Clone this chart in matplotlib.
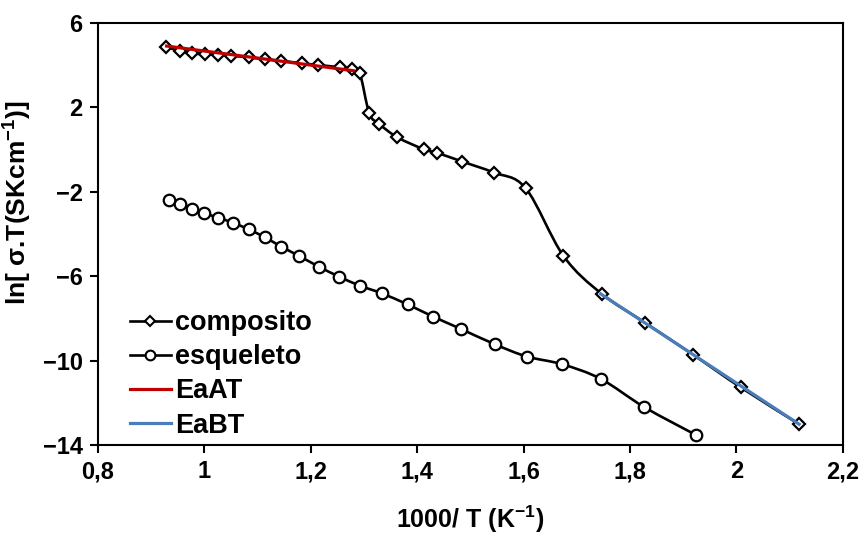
import matplotlib
matplotlib.use("Agg")
import matplotlib.pyplot as plt
from matplotlib.path import Path
from matplotlib.patches import PathPatch
from matplotlib.lines import Line2D

plt.rcParams["font.family"] = ["Liberation Sans", "DejaVu Sans"]
plt.rcParams["font.weight"] = "bold"
plt.rcParams["mathtext.default"] = "regular"

# composito (diamonds)
comp_x = [0.928, 0.954, 0.976, 1.001, 1.026, 1.051, 1.083, 1.114, 1.145, 1.183,
          1.214, 1.255, 1.277, 1.292, 1.310, 1.329, 1.363, 1.413, 1.437, 1.485,
          1.544, 1.604, 1.675, 1.747, 1.828, 1.919, 2.008, 2.118]
comp_y = [4.85, 4.69, 4.56, 4.53, 4.50, 4.44, 4.38, 4.28, 4.21, 4.09,
          4.01, 3.90, 3.80, 3.64, 1.72, 1.21, 0.58, 0.01, -0.15, -0.57,
          -1.09, -1.83, -5.04, -6.84, -8.20, -9.73, -11.27, -13.02]

# esqueleto (circles)
esq_x = [0.934, 0.954, 0.976, 1.000, 1.026, 1.054, 1.083, 1.114, 1.145, 1.178,
         1.215, 1.253, 1.292, 1.333, 1.382, 1.430, 1.482, 1.546, 1.606, 1.673,
         1.745, 1.827, 1.924]
esq_y = [-2.39, -2.58, -2.83, -3.02, -3.23, -3.47, -3.78, -4.16, -4.61, -5.04,
         -5.55, -6.02, -6.45, -6.81, -7.34, -7.92, -8.50, -9.23, -9.81, -10.18,
         -10.87, -12.21, -13.53]

# linear fits
eaat_x = [0.929, 1.280]
eaat_y = [4.91, 3.74]
eabt_x = [1.745, 2.118]
eabt_y = [-6.84, -13.02]

xticks = [0.8, 1.0, 1.2, 1.4, 1.6, 1.8, 2.0, 2.2]
xticklabels = ["0,8", "1", "1,2", "1,4", "1,6", "1,8", "2", "2,2"]
yticks = [6, 2, -2, -6, -10, -14]


def smooth_path(xs, ys):
    # Excel-style smoothed line: Catmull-Rom converted to cubic Bezier
    pts = list(zip(xs, ys))
    n = len(pts)
    verts = [pts[0]]
    codes = [Path.MOVETO]
    for i in range(n - 1):
        p0 = pts[i - 1] if i > 0 else pts[i]
        p1 = pts[i]
        p2 = pts[i + 1]
        p3 = pts[i + 2] if i + 2 < n else pts[i + 1]
        c1 = (p1[0] + (p2[0] - p0[0]) / 6, p1[1] + (p2[1] - p0[1]) / 6)
        c2 = (p2[0] - (p3[0] - p1[0]) / 6, p2[1] - (p3[1] - p1[1]) / 6)
        verts += [c1, c2, p2]
        codes += [Path.CURVE4] * 3
    return Path(verts, codes)


fig = plt.figure(figsize=(8.67, 5.36), dpi=100)
ax = fig.add_axes([0.113, 0.170, 0.859, 0.787])

lw_black = 1.9
ax.add_patch(PathPatch(smooth_path(comp_x, comp_y), fc="none", ec="black", lw=lw_black, zorder=2))
ax.add_patch(PathPatch(smooth_path(esq_x, esq_y), fc="none", ec="black", lw=lw_black, zorder=2))
ax.plot(comp_x, comp_y, ls="none", marker="D", ms=6.5, mfc="white", mec="black", mew=1.6, zorder=3)
ax.plot(esq_x, esq_y, ls="none", marker="o", ms=8.3, mfc="white", mec="black", mew=1.6, zorder=3)
ax.plot(eaat_x, eaat_y, color="#C00000", lw=2.3, zorder=4)
ax.plot(eabt_x, eabt_y, color="#4A7EBB", lw=2.3, zorder=4)

ax.set_xlim(0.8, 2.2)
ax.set_ylim(-14, 6)
ax.set_xticks(xticks)
ax.set_xticklabels(xticklabels)
ax.set_yticks(yticks)
ax.tick_params(direction="out", length=6, width=1.5, labelsize=17, pad=5)
for s in ax.spines.values():
    s.set_linewidth(1.5)

ax.set_xlabel("1000/ T (K$^{-1}$)", fontsize=18, fontweight="bold", labelpad=15)
ax.set_ylabel("ln[ σ.T(SKcm$^{-1}$)]", fontsize=19, fontweight="bold")
ax.yaxis.set_label_coords(-0.086, 0.575)

handles = [
    Line2D([], [], color="black", lw=lw_black, marker="D", ms=5.5, mfc="white", mec="black", mew=1.5),
    Line2D([], [], color="black", lw=lw_black, marker="o", ms=7, mfc="white", mec="black", mew=1.5),
    Line2D([], [], color="#C00000", lw=2.3),
    Line2D([], [], color="#4A7EBB", lw=2.3),
]
labels = ["composito", "esqueleto", "EaAT", "EaBT"]
ax.legend(handles, labels, loc="lower left", bbox_to_anchor=(0.043, 0.015), frameon=False,
          fontsize=19.5, numpoints=1, handlelength=1.5, handletextpad=0.15,
          labelspacing=0.3, borderpad=0, borderaxespad=0)

fig.savefig("out.png", dpi=100)
